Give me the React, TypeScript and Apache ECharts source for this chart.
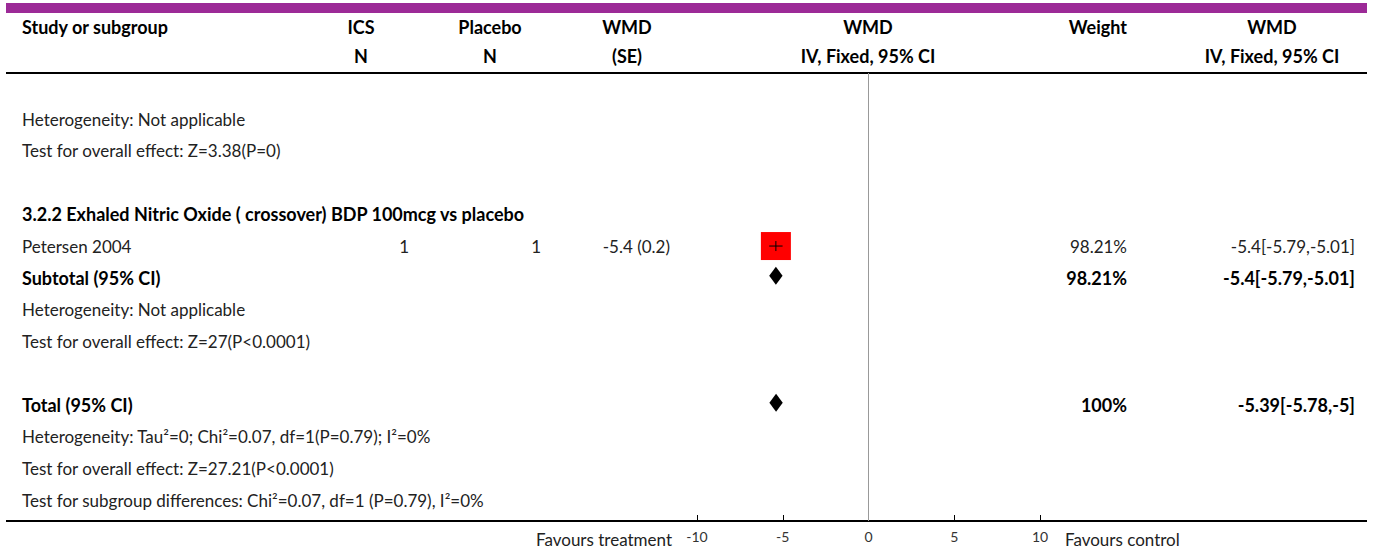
import React, { useEffect, useRef } from "react";
import * as echarts from "echarts";

// ---------- data ----------
const rowLabels = [
  "Heterogeneity: Not applicable",
  "Test for overall effect: Z=3.38(P=0)",
  "",
  "3.2.2 Exhaled Nitric Oxide ( crossover) BDP 100mcg vs placebo",
  "Petersen 2004",
  "Subtotal (95% CI)",
  "Heterogeneity: Not applicable",
  "Test for overall effect: Z=27(P<0.0001)",
  "",
  "Total (95% CI)",
  "Heterogeneity: Tau\u00b2=0; Chi\u00b2=0.07, df=1(P=0.79); I\u00b2=0%",
  "Test for overall effect: Z=27.21(P<0.0001)",
  "Test for subgroup differences: Chi\u00b2=0.07, df=1 (P=0.79), I\u00b2=0%",
];
const rowBold = [false, false, false, true, false, true, false, false, false, true, false, false, false];

const studyRows = [4];
const icsN = [1];
const placeboN = [1];
const studyWMD = [-5.4];
const studySE = [0.2];
const studyLow = [-5.79];
const studyHigh = [-5.01];
const studyWeight = [98.21];

const pooledRows = [5, 9];
const pooledEst = [-5.4, -5.39];
const pooledLow = [-5.79, -5.78];
const pooledHigh = [-5.01, -5];
const pooledWeight = [98.21, 100];

const headerTop = ["Study or subgroup", "ICS", "Placebo", "WMD", "WMD", "Weight", "WMD"];
const headerBottom = ["", "N", "N", "(SE)", "IV, Fixed, 95% CI", "", "IV, Fixed, 95% CI"];
const axisMin = -10;
const axisMax = 10;
const axisStep = 5;
const favoursLeft = "Favours treatment";
const favoursRight = "Favours control";

// ---------- layout ----------
const W = 1373;
const H = 551;
const FONT = "Lato, 'Noto Sans', sans-serif";
const FS = 17;
const FSB = 18;
const TXT = "#222";
const headerX = [22, 361, 490, 627, 868, 1127, 1272];
const headerAlign = ["left", "center", "center", "center", "center", "right", "center"];

function txt(text: string, x: number, y: number, align: string, bold: boolean, size?: number, color?: string) {
  return {
    type: "text",
    x,
    y,
    silent: true,
    style: {
      text,
      fill: color || (bold ? "#000" : TXT),
      fontFamily: FONT,
      fontSize: size || (bold ? FSB : FS),
      fontWeight: bold ? "bold" : "normal",
      textAlign: align,
      textVerticalAlign: "middle",
      align,
      verticalAlign: "middle",
    },
  };
}

export default function App() {
  const ref = useRef<HTMLDivElement>(null);
  useEffect(() => {
    if (!ref.current) return;
    const chart = echarts.init(ref.current, undefined, { renderer: "svg" });

    const graphics: any[] = [
      { type: "rect", shape: { x: 6, y: 3, width: 1361, height: 10 }, style: { fill: "#9c2a97" }, silent: true },
      { type: "line", shape: { x1: 6, y1: 73, x2: 1367, y2: 73 }, style: { stroke: "#000", lineWidth: 2 }, silent: true },
      { type: "line", shape: { x1: 6, y1: 521, x2: 1367, y2: 521 }, style: { stroke: "#000", lineWidth: 2 }, silent: true },
    ];
    headerTop.forEach((t, i) => {
      if (t) graphics.push(txt(t, headerX[i], 27, headerAlign[i], true));
    });
    headerBottom.forEach((t, i) => {
      if (t) graphics.push(txt(t, headerX[i], 56, headerAlign[i], true));
    });
    graphics.push(txt(favoursLeft, 672, 539, "right", false));
    graphics.push(txt(favoursRight, 1065, 539, "left", false));

    const option: any = {
      animation: false,
      grid: { left: 697, right: W - 1040, top: 73, bottom: H - 521, containLabel: false },
      xAxis: {
        type: "value",
        position: "bottom",
        min: axisMin,
        max: axisMax,
        interval: axisStep,
        axisLine: { show: true, onZero: false, lineStyle: { color: "#000", width: 2 } },
        axisTick: { show: true, inside: true, length: 6, lineStyle: { color: "#000", width: 1 } },
        axisLabel: { fontSize: 14, color: "#333", fontFamily: FONT, margin: 8 },
        splitLine: { show: false },
      },
      yAxis: { type: "value", inverse: true, min: -1.45, max: 12.66, show: false },
      graphic: graphics,
      series: [
        {
          type: "scatter",
          data: [],
          silent: true,
          markLine: {
            silent: true,
            symbol: "none",
            label: { show: false },
            lineStyle: { color: "#999", width: 1, type: "solid" },
            data: [{ xAxis: 0 }],
          },
        },
        // row labels
        {
          type: "custom",
          clip: false,
          silent: true,
          data: rowLabels.map((_, i) => [0, i]),
          renderItem: (params: any, api: any) => {
            const i = params.dataIndex;
            const y = api.coord([0, i])[1];
            return txt(rowLabels[i], 22, y, "left", rowBold[i]);
          },
        },
        // study numeric columns
        {
          type: "custom",
          clip: false,
          silent: true,
          data: studyRows.map((r, k) => [studyWMD[k], r]),
          renderItem: (params: any, api: any) => {
            const k = params.dataIndex;
            const y = api.coord([0, studyRows[k]])[1];
            return {
              type: "group",
              children: [
                txt(String(icsN[k]), 409, y, "right", false),
                txt(String(placeboN[k]), 541, y, "right", false),
                txt(`${studyWMD[k]} (${studySE[k]})`, 670, y, "right", false),
                txt(`${studyWeight[k]}%`, 1127, y, "right", false),
                txt(`${studyWMD[k]}[${studyLow[k]},${studyHigh[k]}]`, 1355, y, "right", false),
              ],
            };
          },
        },
        // pooled numeric columns
        {
          type: "custom",
          clip: false,
          silent: true,
          data: pooledRows.map((r, k) => [pooledEst[k], r]),
          renderItem: (params: any, api: any) => {
            const k = params.dataIndex;
            const y = api.coord([0, pooledRows[k]])[1];
            return {
              type: "group",
              children: [
                txt(`${pooledWeight[k]}%`, 1127, y, "right", true),
                txt(`${pooledEst[k]}[${pooledLow[k]},${pooledHigh[k]}]`, 1355, y, "right", true),
              ],
            };
          },
        },
        // study square
        {
          type: "scatter",
          symbol: "rect",
          symbolSize: [30, 28],
          itemStyle: { color: "#ff0000", opacity: 1 },
          silent: true,
          data: studyRows.map((r, k) => [studyWMD[k], r]),
          z: 3,
        },
        // CI line and centre tick
        {
          type: "custom",
          silent: true,
          z: 4,
          data: studyRows.map((r, k) => [studyLow[k], studyHigh[k], studyWMD[k], r]),
          renderItem: (params: any, api: any) => {
            const lo = api.coord([api.value(0), api.value(3)]);
            const hi = api.coord([api.value(1), api.value(3)]);
            const c = api.coord([api.value(2), api.value(3)]);
            return {
              type: "group",
              children: [
                { type: "line", shape: { x1: lo[0], y1: lo[1], x2: hi[0], y2: hi[1] }, style: { stroke: "#000", lineWidth: 1 } },
                { type: "line", shape: { x1: c[0], y1: c[1] - 5, x2: c[0], y2: c[1] + 5 }, style: { stroke: "#000", lineWidth: 1 } },
              ],
            };
          },
        },
        // diamonds
        {
          type: "custom",
          silent: true,
          z: 4,
          data: pooledRows.map((r, k) => [pooledLow[k], pooledHigh[k], pooledEst[k], r]),
          renderItem: (params: any, api: any) => {
            const lo = api.coord([api.value(0), api.value(3)]);
            const hi = api.coord([api.value(1), api.value(3)]);
            const c = api.coord([api.value(2), api.value(3)]);
            const yc = c[1] - 2;
            return {
              type: "polygon",
              shape: { points: [[lo[0], yc], [c[0], yc - 9], [hi[0], yc], [c[0], yc + 9]] },
              style: { fill: "#000" },
            };
          },
        },
      ],
    };
    chart.setOption(option);
    return () => chart.dispose();
  }, []);
  return <div ref={ref} style={{ position: "fixed", left: 0, top: 0, width: W, height: H, background: "#fff" }} />;
}
